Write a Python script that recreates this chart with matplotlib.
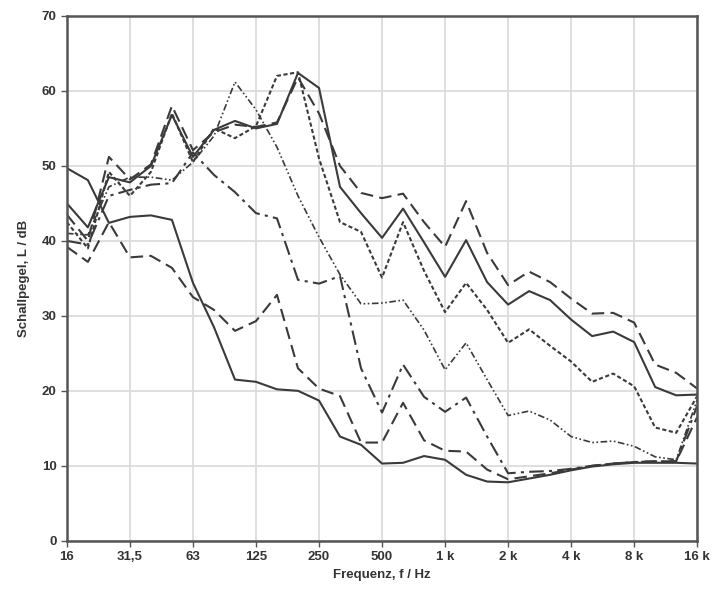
import numpy as np
import matplotlib
matplotlib.use("Agg")
import matplotlib.pyplot as plt

plt.rcParams['font.family'] = ['Liberation Sans', 'DejaVu Sans']

# terzband centre frequencies
bands = ["16", "20", "25", "31,5", "40", "50", "63", "80", "100", "125", "160",
         "200", "250", "315", "400", "500", "630", "800", "1 k", "1,25 k", "1,6 k",
         "2 k", "2,5 k", "3,15 k", "4 k", "5 k", "6,3 k", "8 k", "10 k", "12,5 k", "16 k"]

s_low = [49.7, 48.1, 42.4, 43.2, 43.4, 42.8, 34.4, 28.5, 21.5, 21.2, 20.2,
         20.0, 18.7, 13.9, 12.8, 10.3, 10.4, 11.3, 10.8, 8.8, 7.9,
         7.8, 8.3, 8.8, 9.4, 9.9, 10.2, 10.4, 10.4, 10.4, 10.3]
s_up = [45.0, 41.8, 48.5, 47.8, 50.0, 56.8, 51.2, 54.8, 56.0, 55.0, 55.6,
        62.4, 60.4, 47.2, 43.7, 40.4, 44.3, 39.8, 35.2, 40.1, 34.5,
        31.5, 33.3, 32.1, 29.5, 27.3, 27.9, 26.5, 20.5, 19.4, 19.5]
d_up = [43.5, 40.0, 51.2, 48.2, 50.2, 58.0, 52.1, 54.5, 55.5, 55.2, 55.8,
        61.8, 57.0, 50.0, 46.4, 45.7, 46.3, 42.5, 39.2, 45.3, 38.4,
        34.1, 35.9, 34.5, 32.3, 30.3, 30.4, 29.1, 23.5, 22.4, 20.3]
dot = [42.5, 39.0, 49.2, 46.0, 49.2, 57.0, 50.5, 55.0, 53.7, 55.3, 62.0,
       62.5, 51.0, 42.5, 41.2, 35.1, 42.5, 36.0, 30.5, 34.4, 30.8,
       26.4, 28.2, 26.0, 23.9, 21.2, 22.3, 20.6, 15.1, 14.4, 19.3]
ddd = [41.0, 40.8, 47.2, 48.5, 48.5, 48.1, 50.5, 54.0, 61.2, 57.5, 52.5,
       46.0, 40.5, 35.5, 31.6, 31.7, 32.1, 28.1, 22.8, 26.4, 21.5,
       16.7, 17.3, 16.1, 13.9, 13.1, 13.3, 12.6, 11.2, 10.8, 18.8]
dd = [40.0, 39.5, 46.0, 46.8, 47.5, 47.7, 51.8, 48.8, 46.5, 43.7, 43.0,
      34.8, 34.3, 35.3, 23.0, 17.1, 23.5, 19.2, 17.2, 19.1, 13.9,
      9.0, 9.2, 9.3, 9.6, 10.0, 10.3, 10.5, 10.6, 10.6, 18.0]
d_low = [39.2, 37.2, 42.5, 37.8, 38.0, 36.4, 32.5, 30.8, 28.0, 29.3, 32.8,
         23.0, 20.3, 19.3, 13.1, 13.1, 18.4, 13.4, 12.0, 11.9, 9.5,
         8.2, 8.6, 9.0, 9.5, 10.0, 10.3, 10.5, 10.6, 10.6, 16.5]

x = np.arange(len(bands))
col = '#3a3a3a'

fig = plt.figure(figsize=(7.27, 5.91), dpi=100)
ax = fig.add_axes([0.092, 0.085, 0.867, 0.888])

ax.plot(x, s_low, color=col, lw=1.5, ls='-')
ax.plot(x, s_up, color=col, lw=1.5, ls='-')
ax.plot(x, d_up, color=col, lw=1.5, ls=(0, (6, 3)))
ax.plot(x, dot, color=col, lw=1.5, ls=(0, (2, 1.2)))
ax.plot(x, ddd, color=col, lw=1.2, ls=(0, (4, 1.5, 1, 1.5, 1, 1.5)))
ax.plot(x, dd, color=col, lw=1.5, ls=(0, (7, 2.5, 1.5, 2.5)))
ax.plot(x, d_low, color=col, lw=1.5, ls=(0, (6, 3)))

ax.set_xlim(0, len(bands) - 1)
ax.set_ylim(0, 70)
ax.set_xticks(x[::3])
ax.set_xticklabels(bands[::3])
ax.set_yticks(range(0, 71, 10))

ax.grid(True, color='#dcdcdc', lw=1.3)
ax.set_axisbelow(True)
for s in ax.spines.values():
    s.set_color('#555555')
    s.set_linewidth(1.8)

ax.tick_params(direction='out', length=4, width=1, color='#555555',
               labelsize=9.5, labelcolor='#333333')
for lab in ax.get_xticklabels() + ax.get_yticklabels():
    lab.set_fontweight('bold')

ax.set_xlabel('Frequenz, f / Hz', fontsize=9.5, fontweight='bold', color='#333333', labelpad=4)
ax.set_ylabel('Schallpegel, L / dB', fontsize=9.5, fontweight='bold', color='#333333', labelpad=8)

fig.savefig('out.png', dpi=100)
